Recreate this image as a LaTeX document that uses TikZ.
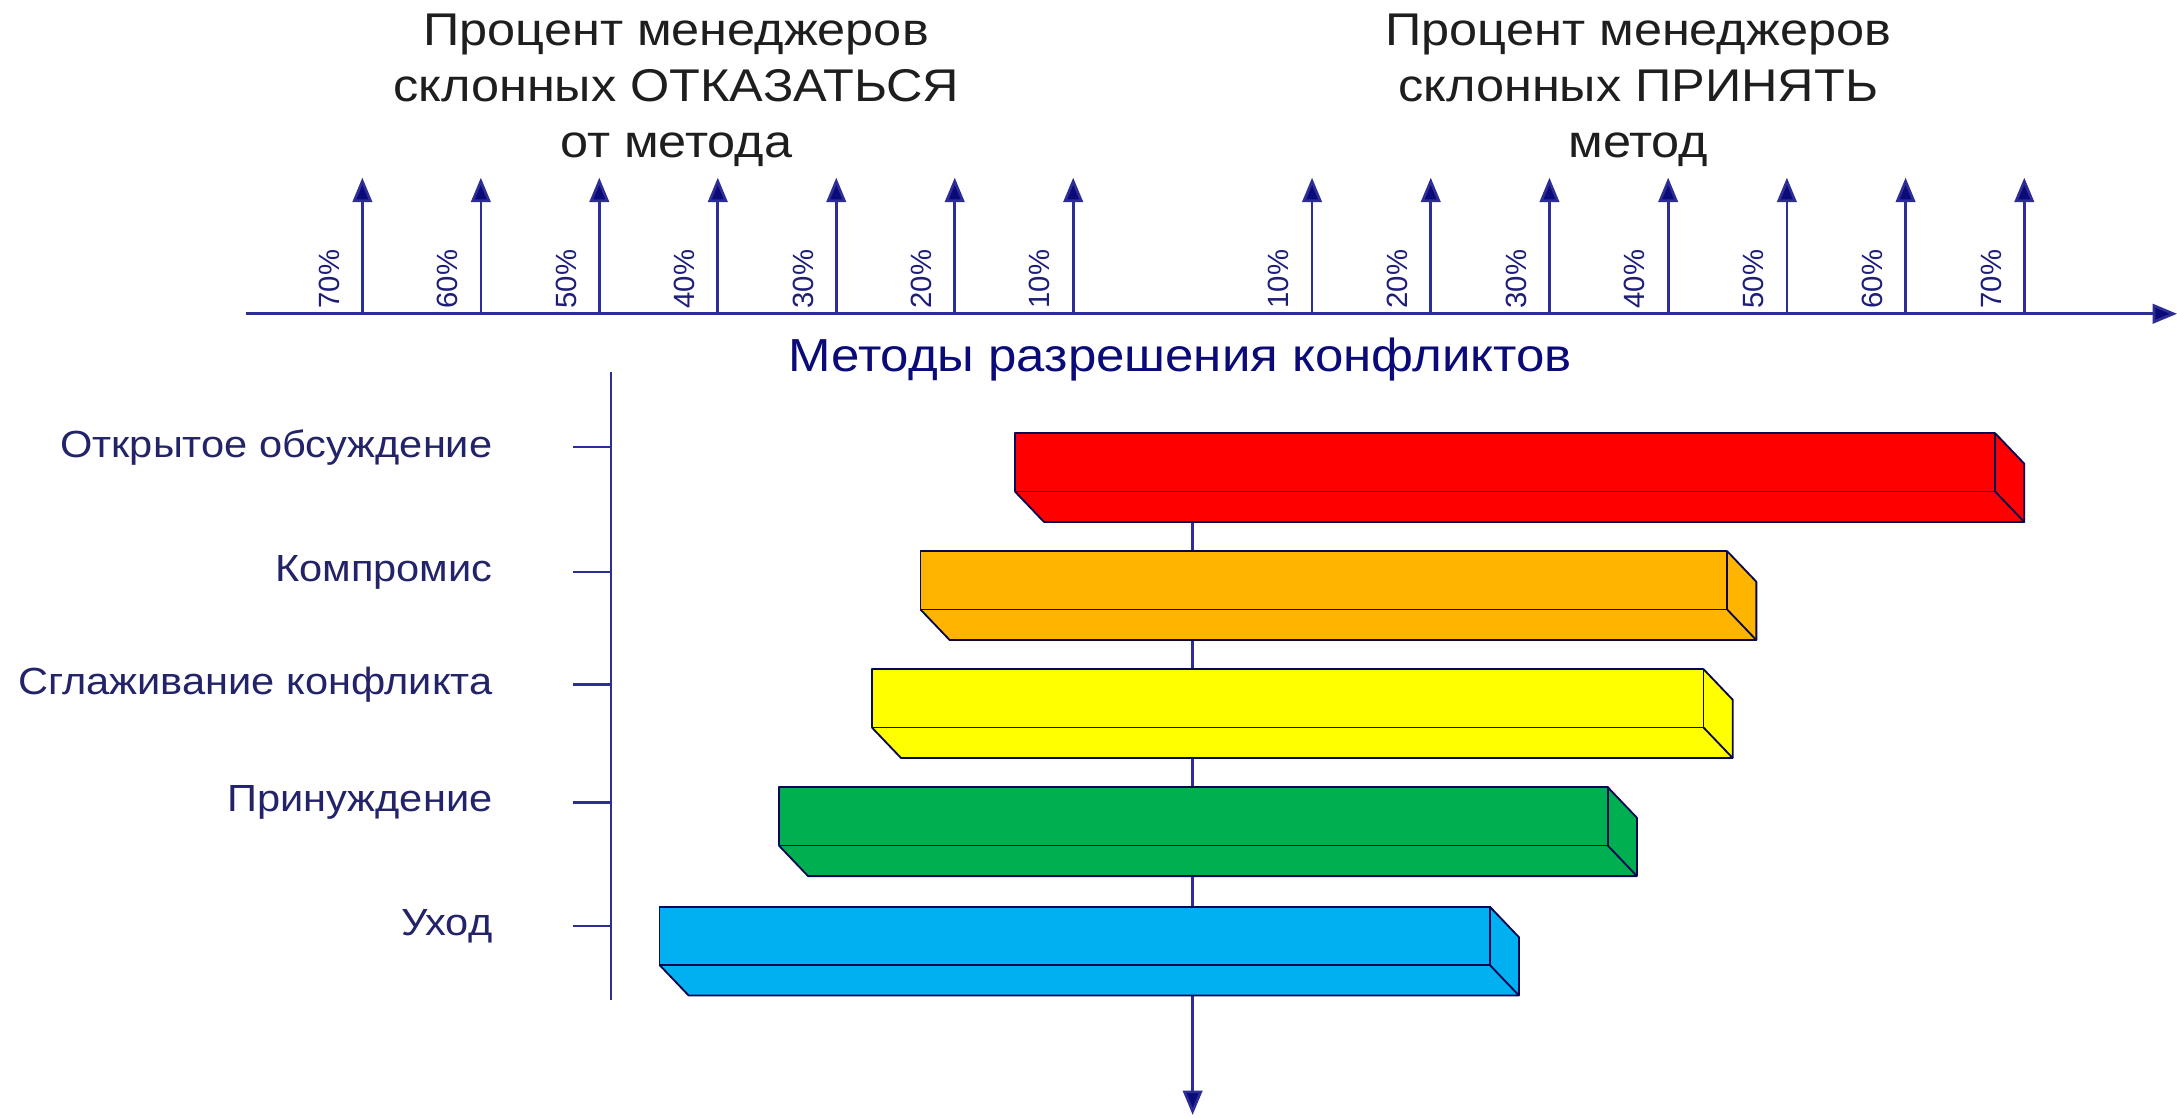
\documentclass[tikz,border=0pt]{standalone}
\usepackage{fontspec}
\setmainfont{Liberation Sans}
\newfontfamily\widesans[FakeStretch=1.1]{Liberation Sans}
\usetikzlibrary{arrows.meta}
\definecolor{navy}{RGB}{10,10,120}
\definecolor{axisblue}{RGB}{45,45,150}
\definecolor{ttlgray}{RGB}{30,30,30}
\definecolor{lblblue}{RGB}{35,35,105}
\definecolor{pctblue}{RGB}{30,30,120}
\definecolor{barred}{RGB}{255,0,0}
\definecolor{barorange}{RGB}{255,180,0}
\definecolor{baryellow}{RGB}{255,255,0}
\definecolor{bargreen}{RGB}{0,176,80}
\definecolor{barblue}{RGB}{0,176,240}
\newcommand\cubebar[4]{% color, x1, x2, ytop
  \fill[#1] (#2,#4) -- (#3,#4) -- (#3+21,#4+22) -- (#3+21,#4+64) -- (#2+21,#4+64) -- (#2,#4+42) -- cycle;
  \draw[barline] (#2,#4) rectangle (#3,#4+42);
  \draw[barline] (#2,#4+42) -- (#2+21,#4+64) -- (#3+21,#4+64) -- (#3+21,#4+22) -- (#3,#4);
  \draw[barline] (#3,#4+42) -- (#3+21,#4+64);
}
\begin{document}
\begin{tikzpicture}[x=0.02cm,y=-0.02cm,
  axisline/.style={draw=axisblue, line width=1.1pt},
  arrline/.style={axisline, -{Triangle[length=10pt,width=8pt,fill=navy]}},
  barline/.style={draw=navy!70!black, line width=0.75pt, line join=round},
  ttl/.style={text=ttlgray, font=\widesans\fontsize{18.8}{22.9}\selectfont, align=center},
  pct/.style={text=pctblue, font=\fontsize{12}{14}\selectfont, inner sep=0pt},
  mlabel/.style={text=lblblue, font=\widesans\fontsize{15.5}{19}\selectfont, inner sep=0pt, anchor=east},
  midttl/.style={text=navy, font=\widesans\fontsize{19}{22}\selectfont, inner sep=0pt}]
\useasboundingbox (0,0) rectangle (1568,805);
% titles
\node[ttl] (tleft) at (487,65) {Процент менеджеров\\склонных ОТКАЗАТЬСЯ\\от метода};
\node[ttl] (tright) at (1180,65) {Процент менеджеров\\склонных ПРИНЯТЬ\\метод};
% horizontal axis
\coordinate (hx0) at (177,226);
\coordinate (hx1) at (1568,226);
\draw[arrline] (hx0) -- (hx1);
% percentage arrows
\foreach \i in {0,...,6}{
  \pgfmathsetmacro\xx{261+85.33*\i}
  \pgfmathtruncatemacro\pp{70-10*\i}
  \coordinate (Lb\i) at (\xx,226);
  \coordinate (Lt\i) at (\xx,128);
  \draw[arrline] (Lb\i) -- (Lt\i);
  \node[pct,rotate=90] (Lp\i) at (\xx-24,201) {\pp\%};
  \pgfmathsetmacro\xr{945+85.5*\i}
  \pgfmathtruncatemacro\pr{10+10*\i}
  \coordinate (Rb\i) at (\xr,226);
  \coordinate (Rt\i) at (\xr,128);
  \draw[arrline] (Rb\i) -- (Rt\i);
  \node[pct,rotate=90] (Rp\i) at (\xr-24,201) {\pr\%};
}
\node[midttl] (mid) at (850,259) {Методы разрешения конфликтов};
% left vertical axis with ticks
\coordinate (vl0) at (440,268);
\coordinate (vl1) at (440,720);
\draw[axisline] (vl0) -- (vl1);
\foreach \y/\n/\t in {322/m1/Открытое обсуждение,412/m2/Компромис,493/m3/Сглаживание конфликта,578/m4/Принуждение,667/m5/Уход}{
  \coordinate (\n a) at (413,\y);
  \coordinate (\n b) at (440,\y);
  \draw[axisline] (\n a) -- (\n b);
  \node[mlabel] (\n) at (355,\y) {\t};
}
% central vertical axis
\coordinate (cv0) at (859,340);
\coordinate (cv1) at (859,803);
\draw[arrline] (cv0) -- (cv1);
% bars
\cubebar{barred}{731}{1437}{312}
\cubebar{barorange}{663}{1244}{397}
\cubebar{baryellow}{628}{1227}{482}
\cubebar{bargreen}{561}{1158}{567}
\cubebar{barblue}{475}{1073}{653}
\end{tikzpicture}
\end{document}
